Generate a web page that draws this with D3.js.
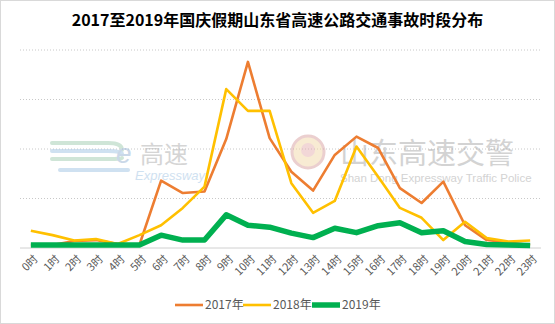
<!DOCTYPE html>
<html>
<head>
<meta charset="utf-8">
<script src="https://cdn.jsdelivr.net/npm/d3@7/dist/d3.min.js"></script>
<style>
  html, body { margin: 0; padding: 0; background: #fff; }
  svg { display: block; font-family: "Microsoft YaHei", "Noto Sans CJK SC", sans-serif; }
</style>
</head>
<body>
<svg id="chart" width="555" height="324"></svg>
<script>
// Hourly accident counts during the National Day holiday, 2017–2019
const hours = ["0时","1时","2时","3时","4时","5时","6时","7时","8时","9时","10时","11时",
               "12时","13时","14时","15时","16时","17时","18时","19时","20时","21时","22时","23时"];
const y2017 = [0.6,0.6,1.4,1.6,0.8,0.6,13.6,11.1,11.4,22.0,37.6,22.2,15.4,11.6,18.8,22.5,20.2,12.1,9.1,13.4,4.6,1.6,1.1,0.6];
const y2018 = [3.5,2.6,1.5,1.8,0.8,2.6,4.6,8.1,12.4,32.1,27.7,27.7,13.1,7.1,9.5,20.5,14.4,8.1,6.1,1.6,5.3,2.0,1.3,1.5];
const y2019 = [0.6,0.6,0.6,0.6,0.6,0.6,2.6,1.6,1.6,6.7,4.6,4.2,3.0,2.1,4.0,3.1,4.5,5.1,3.1,3.5,1.3,0.7,0.6,0.5];
const gridTicks = [0,10,20,30,40];
const seriesNames = ["2017年","2018年","2019年"];
const seriesColors = ["#ED7D31","#FFC000","#00B050"];
const seriesWidths = [2.6,2.6,5.5];

const svg = d3.select("#chart");
const W = 555, H = 324;

// outer frame
svg.append("rect").attr("x",0.5).attr("y",0.5).attr("width",W-1).attr("height",H-1)
  .attr("fill","#fff").attr("stroke","#d9d9d9");

// title
svg.append("text").attr("x",W/2).attr("y",26).attr("text-anchor","middle")
  .attr("font-size",16).attr("font-weight","bold").attr("fill","#000")
  .text("2017至2019年国庆假期山东省高速公路交通事故时段分布");

const x = d3.scalePoint().domain(hours).range([20,541]).padding(0.5);
const y = d3.scaleLinear().domain([0,40]).range([248,50]);

// gridlines
const grid = svg.append("g");
grid.selectAll("line").data(gridTicks.filter(t => t > 0)).join("line")
  .attr("x1",20).attr("x2",541)
  .attr("y1",d => y(d)).attr("y2",d => y(d))
  .attr("stroke","#c8c8c8").attr("stroke-width",1).attr("stroke-dasharray","1,2");

// watermark: e高速 Expressway
const wm1 = svg.append("g").attr("opacity",0.55);
[[0,"#a8d0b8"],[8,"#a9c9e6"],[16,"#a8d0b8"]].forEach(([dy,c]) => {
  wm1.append("path")
    .attr("d",`M52,${143+dy} L108,${143+dy} Q122,${143+dy} 122,${150+dy/2}`)
    .attr("fill","none").attr("stroke",c).attr("stroke-width",4).attr("stroke-linecap","round");
});
wm1.append("path").attr("d","M60,170 L128,170").attr("fill","none")
  .attr("stroke","#a9c9e6").attr("stroke-width",4).attr("stroke-linecap","round");
wm1.append("text").attr("x",116).attr("y",163).attr("font-size",28).attr("font-style","italic")
  .attr("fill","#9fb9d6").attr("font-family","Arial, sans-serif").text("e");
wm1.append("text").attr("x",140).attr("y",163).attr("font-size",24)
  .attr("fill","#b4b4b4").text("高速");
wm1.append("text").attr("x",135).attr("y",180).attr("font-size",13).attr("font-style","italic")
  .attr("fill","#a9c9e6").attr("font-family","Arial, sans-serif").text("Expressway");

// watermark: 山东高速交警
const wm2 = svg.append("g").attr("opacity",0.5);
wm2.append("circle").attr("cx",308).attr("cy",152).attr("r",16)
  .attr("fill","#f3d9a8").attr("stroke","#d9a0a0").attr("stroke-width",3);
wm2.append("circle").attr("cx",308).attr("cy",150).attr("r",7).attr("fill","#e6b0b0");
wm2.append("text").attr("x",340).attr("y",164).attr("font-size",29)
  .attr("fill","#a8a8a8").text("山东高速交警");
wm2.append("text").attr("x",340).attr("y",182).attr("font-size",11.5)
  .attr("fill","#a8a8a8").attr("font-family","Arial, sans-serif")
  .text("Shan Dong Expressway Traffic Police");

// baseline
svg.append("line").attr("x1",20).attr("x2",541).attr("y1",y(0)).attr("y2",y(0))
  .attr("stroke","#d0d0d0");

// x axis labels
const xAxis = svg.append("g");
xAxis.selectAll("text").data(hours).join("text")
  .attr("transform",d => `translate(${x(d)+5},${257}) rotate(-45)`)
  .attr("text-anchor","end").attr("dy","0.35em")
  .attr("font-size",11).attr("fill","#595959").text(d => d);

// lines
const line = d3.line().x((d,i) => x(hours[i])).y(d => y(d));
[y2017,y2018,y2019].forEach((vals,k) => {
  svg.append("path").datum(vals).attr("d",line)
    .attr("fill","none").attr("stroke",seriesColors[k])
    .attr("stroke-width",seriesWidths[k]).attr("stroke-linejoin","round");
});

// legend
const legend = svg.append("g").attr("transform","translate(0,305)");
const legendX = [175,243,312];
seriesNames.forEach((name,k) => {
  legend.append("line").attr("x1",legendX[k]).attr("x2",legendX[k]+28)
    .attr("y1",0).attr("y2",0).attr("stroke",seriesColors[k])
    .attr("stroke-width",seriesWidths[k]);
  legend.append("text").attr("x",legendX[k]+30).attr("y",0).attr("dy","0.35em")
    .attr("font-size",12).attr("fill","#595959").text(name);
});
</script>
</body>
</html>
